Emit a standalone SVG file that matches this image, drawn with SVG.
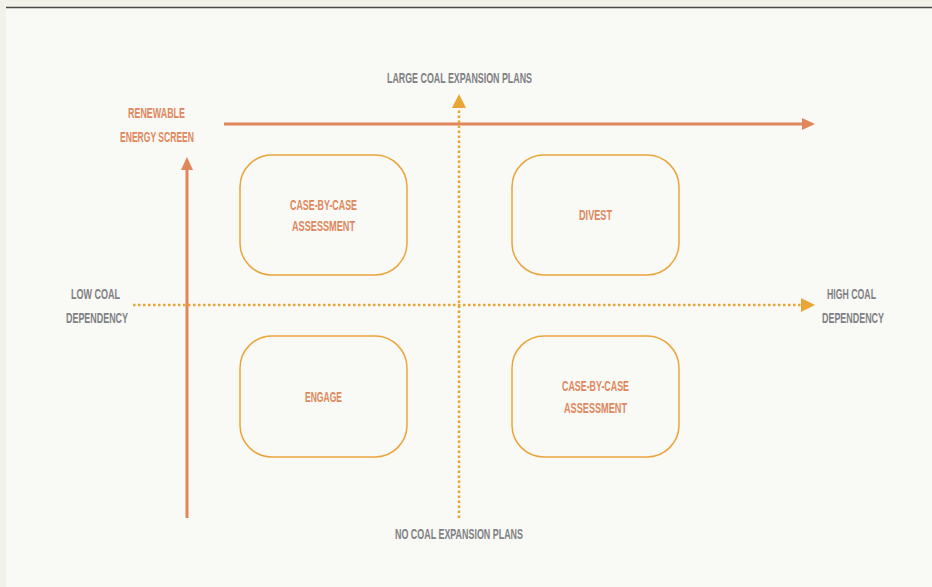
<svg xmlns="http://www.w3.org/2000/svg" width="932" height="587" viewBox="0 0 932 587">
<style>
text{font-family:"Liberation Sans",Arial,sans-serif;font-weight:bold;font-size:15.5px;text-anchor:middle}
.g{fill:#808184}
.o{fill:#e0875c}
.box{fill:none;stroke:#eaa53c;stroke-width:1.5}
.solid{stroke:#e0875c;stroke-width:3;fill:none}
.dot{stroke:#e9a535;stroke-width:2.5;stroke-dasharray:2.5 2.5;fill:none}
</style>
<defs>
<marker id="ms" markerWidth="14" markerHeight="14" refX="0" refY="7" orient="auto" markerUnits="userSpaceOnUse"><path d="M0,1 L13,7 L0,13 Z" fill="#e0875c"/></marker>
<marker id="md" markerWidth="16" markerHeight="16" refX="0" refY="8" orient="auto" markerUnits="userSpaceOnUse"><path d="M0,1 L14,8 L0,15 Z" fill="#e9a535"/></marker>
</defs>
<rect width="932" height="587" fill="#f2f1ea"/>
<rect x="6" y="8" width="926" height="579" fill="#f9f9f5"/>
<line x1="6" y1="7.5" x2="932" y2="7.5" stroke="#4a4a48" stroke-width="1.5"/>
<g id="connectors">
<line class="solid" x1="224" y1="124" x2="802" y2="124" marker-end="url(#ms)"/>
<line class="solid" x1="187" y1="518" x2="187" y2="170" marker-end="url(#ms)"/>
<line class="dot" x1="459" y1="518" x2="459" y2="108" marker-end="url(#md)"/>
<line class="dot" x1="133" y1="305" x2="801" y2="305" marker-end="url(#md)"/>
</g>
<g id="label-large"><text class="g" x="459.5" y="83" textLength="145" lengthAdjust="spacingAndGlyphs">LARGE COAL EXPANSION PLANS</text></g>
<g id="label-renewable"><text class="o" x="156.5" y="118" textLength="57" lengthAdjust="spacingAndGlyphs">RENEWABLE</text><text class="o" x="157" y="142" textLength="74" lengthAdjust="spacingAndGlyphs">ENERGY SCREEN</text></g>
<g id="label-low"><text class="g" x="95.5" y="299" textLength="49" lengthAdjust="spacingAndGlyphs">LOW COAL</text><text class="g" x="97" y="323" textLength="62" lengthAdjust="spacingAndGlyphs">DEPENDENCY</text></g>
<g id="label-high"><text class="g" x="851.5" y="299" textLength="49" lengthAdjust="spacingAndGlyphs">HIGH COAL</text><text class="g" x="853" y="323" textLength="62" lengthAdjust="spacingAndGlyphs">DEPENDENCY</text></g>
<g id="label-no"><text class="g" x="459" y="539" textLength="128" lengthAdjust="spacingAndGlyphs">NO COAL EXPANSION PLANS</text></g>
<g id="box-case1"><rect class="box" x="240" y="155" width="167" height="120" rx="32"/><text class="o" x="323.5" y="210" textLength="67" lengthAdjust="spacingAndGlyphs">CASE-BY-CASE</text><text class="o" x="323.5" y="231" textLength="63" lengthAdjust="spacingAndGlyphs">ASSESSMENT</text></g>
<g id="box-divest"><rect class="box" x="512" y="155" width="167" height="120" rx="32"/><text class="o" x="595.5" y="220" textLength="33" lengthAdjust="spacingAndGlyphs">DIVEST</text></g>
<g id="box-engage"><rect class="box" x="240" y="336" width="167" height="121" rx="32"/><text class="o" x="323.5" y="402" textLength="37" lengthAdjust="spacingAndGlyphs">ENGAGE</text></g>
<g id="box-case2"><rect class="box" x="512" y="336" width="167" height="121" rx="32"/><text class="o" x="595.5" y="391" textLength="67" lengthAdjust="spacingAndGlyphs">CASE-BY-CASE</text><text class="o" x="595.5" y="413" textLength="63" lengthAdjust="spacingAndGlyphs">ASSESSMENT</text></g>
</svg>
